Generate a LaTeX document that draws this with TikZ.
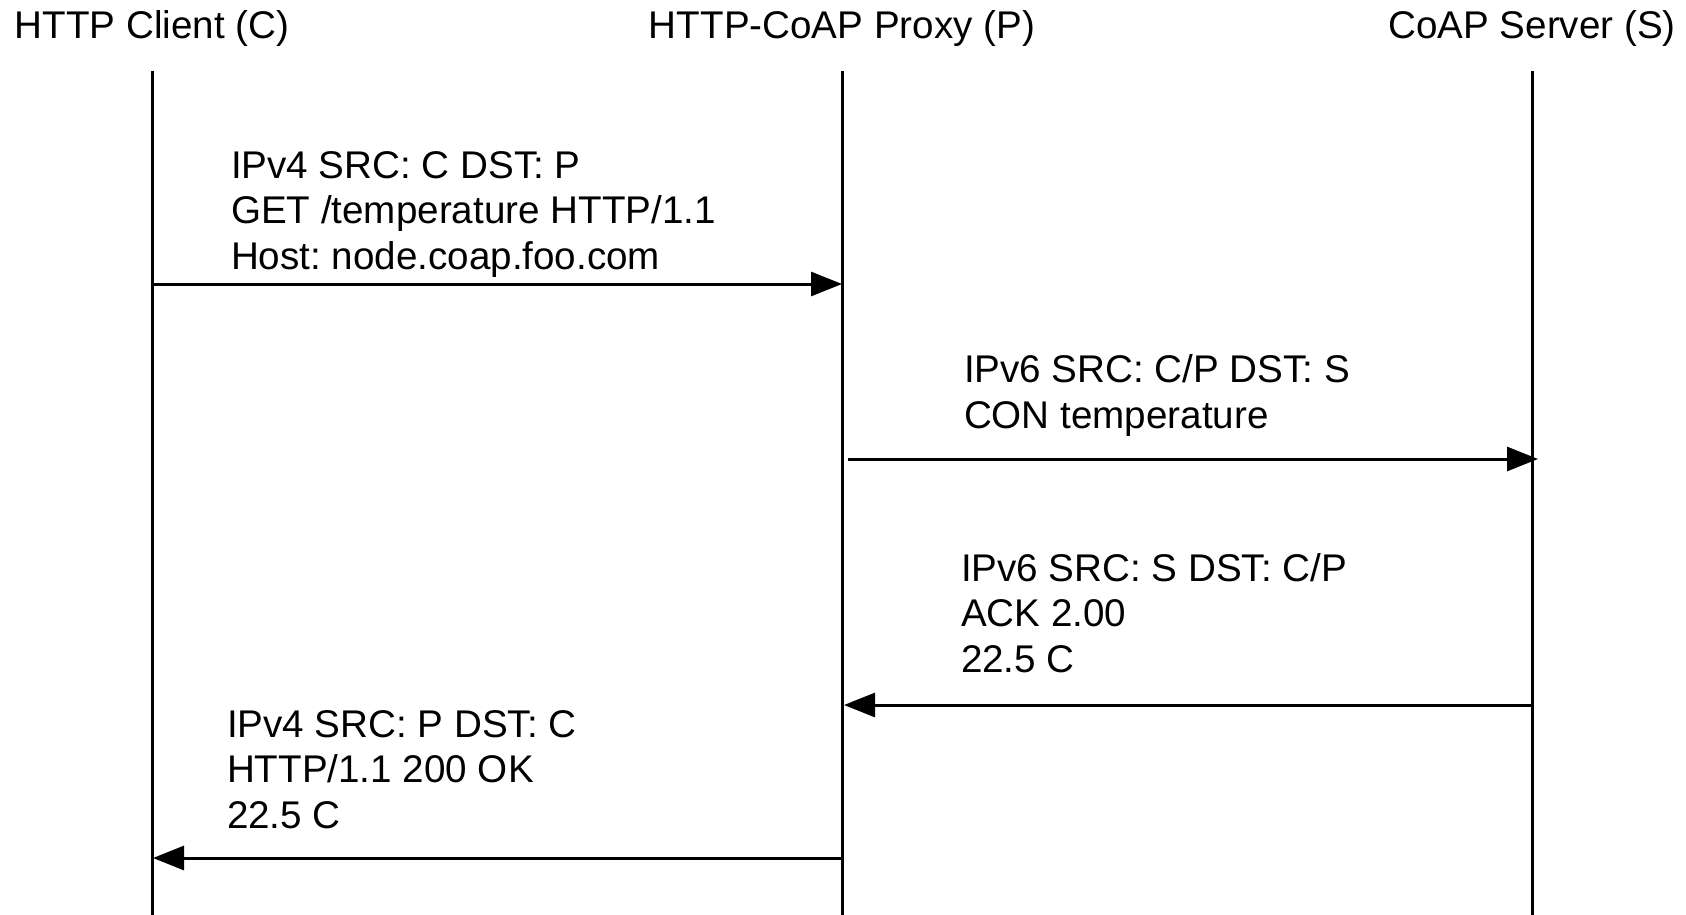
\documentclass[tikz,border=0pt]{standalone}
\usepackage{fontspec}
\setmainfont{Liberation Sans}
\usetikzlibrary{arrows.meta,calc}
\frenchspacing
\begin{document}
\begin{tikzpicture}[x=0.5pt,y=-0.5pt,
  every node/.style={inner sep=0pt,outer sep=0pt,font=\fontsize{19.3pt}{22.75pt}\selectfont\frenchspacing},
  lifeline/.style={line width=1.5pt},
  msg/.style={line width=1.5pt,-{Triangle[length=15.5pt,width=12pt]}},
  msgtext/.style={anchor=base west,align=left},
  title/.style={anchor=base}]
\useasboundingbox (0,0) rectangle (1686,915);
% titles
\node[title] (tC) at (152,39) {HTTP Client (C)};
\node[title] (tP) at (842,39) {HTTP-CoAP Proxy (P)};
\node[title] (tS) at (1532,39) {CoAP Server (S)};
% lifelines
\coordinate (Ctop) at (152,71); \coordinate (Cbot) at (152,915);
\coordinate (Ptop) at (842,71); \coordinate (Pbot) at (842,915);
\coordinate (Stop) at (1532,71); \coordinate (Sbot) at (1532,915);
\draw[lifeline] (Ctop) -- (Cbot);
\draw[lifeline] (Ptop) -- (Pbot);
\draw[lifeline] (Stop) -- (Sbot);
% message 1 (base anchor = baseline of last line)
\node[msgtext] (m1) at (231,269) {IPv4 SRC: C DST: P\\GET /temperature HTTP/1.1\\Host: node.coap.foo.com};
\coordinate (m1a) at (152,284); \coordinate (m1b) at (842,284);
\draw[msg] (m1a) -- (m1b);
% message 2
\node[msgtext] (m2) at (964,428) {IPv6 SRC: C/P DST: S\\CON temperature};
\coordinate (m2a) at (848,459); \coordinate (m2b) at (1538,459);
\draw[msg] (m2a) -- (m2b);
% message 3
\node[msgtext] (m3) at (961,672) {IPv6 SRC: S DST: C/P\\ACK 2.00\\22.5 C};
\coordinate (m3a) at (1532,705); \coordinate (m3b) at (844,705);
\draw[msg] (m3a) -- (m3b);
% message 4
\node[msgtext] (m4) at (227,828) {IPv4 SRC: P DST: C\\HTTP/1.1 200 OK\\22.5 C};
\coordinate (m4a) at (842,858); \coordinate (m4b) at (153,858);
\draw[msg] (m4a) -- (m4b);
\end{tikzpicture}
\end{document}
